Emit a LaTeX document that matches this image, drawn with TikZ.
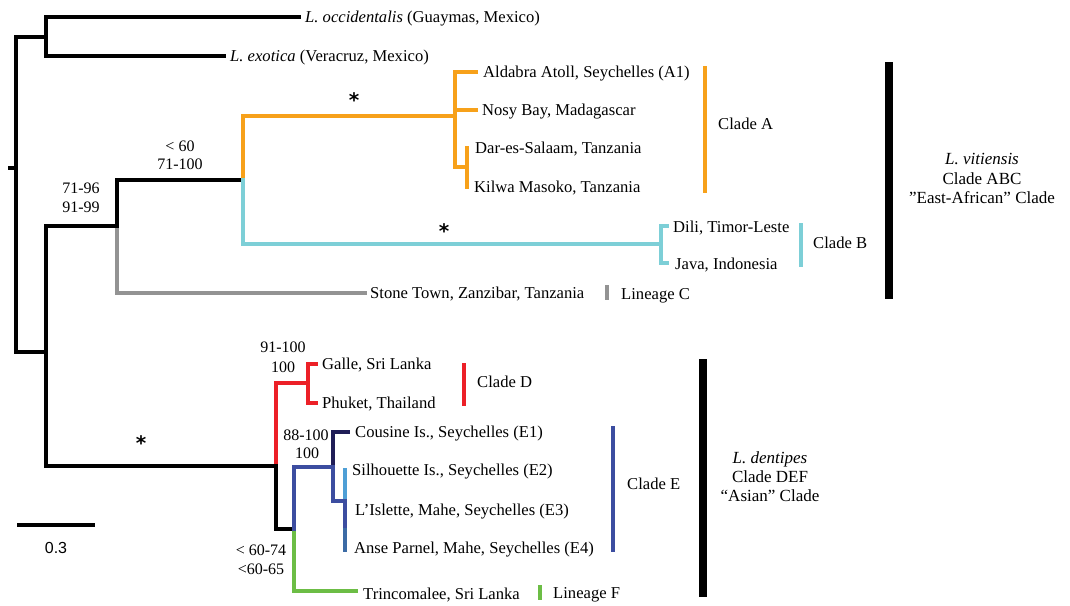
\documentclass[tikz,border=0pt]{standalone}
\usepackage{fontspec}
\setmainfont{Liberation Serif}
\newfontfamily\astfam{DejaVu Sans}
\newfontfamily\sansfam{Liberation Sans}
\definecolor{cA}{HTML}{F7A11A}
\definecolor{cB}{HTML}{7DCFD7}
\definecolor{cC}{HTML}{939393}
\definecolor{cD}{HTML}{EC2027}
\definecolor{cE}{HTML}{3C4DA0}
\definecolor{cEa}{HTML}{1F1D57}
\definecolor{cEb}{HTML}{4E9FD6}
\definecolor{cEd}{HTML}{3C6BA5}
\definecolor{cF}{HTML}{6CBD45}
\begin{document}
\begin{tikzpicture}[x=1pt,y=-1pt,
  br/.style={line width=3.4pt,line cap=rect},
  cbar/.style={line width=3.6pt},
  bigbar/.style={line width=8.5pt},
  tip/.style={anchor=west,inner sep=0pt,font=\fontsize{16.6}{19}\selectfont,text height=11pt,text depth=0pt},
  boot/.style={anchor=center,inner sep=0pt,font=\fontsize{16}{19}\selectfont,text height=10.8pt,text depth=0pt},
  blk/.style={anchor=center,inner sep=0pt,font=\fontsize{17}{19}\selectfont,text height=11.3pt,text depth=0pt},
  ast/.style={anchor=north,inner sep=0pt,font=\astfam\bfseries\fontsize{20}{20}\selectfont}]
\useasboundingbox[fill=white] (0,0) rectangle (1070,605);

% ---------- internal nodes ----------
\coordinate (r) at (16,168);
\coordinate (rstub) at (10,168);
\coordinate (og) at (46,37);
\coordinate (ig) at (46,352);
\coordinate (abc) at (117,226);
\coordinate (ab) at (243,180);
\coordinate (nA) at (455,116);
\coordinate (nDK) at (467,167);
\coordinate (nB) at (661,244);
\coordinate (def) at (276,466);
\coordinate (nD) at (308,383);
\coordinate (nEF) at (294,529);
\coordinate (nE) at (333,467);
\coordinate (nEs) at (345,501);

% ---------- tips ----------
\coordinate (tOcc) at (299,17);
\coordinate (tExo) at (224,56);
\coordinate (tAld) at (476,72);
\coordinate (tNosy) at (476,110);
\coordinate (tDar) at (467,148);
\coordinate (tKil) at (467,187);
\coordinate (tDili) at (667,226);
\coordinate (tJava) at (667,263);
\coordinate (tStone) at (365,293);
\coordinate (tGalle) at (316,364);
\coordinate (tPhuket) at (316,403);
\coordinate (tCous) at (348,432);
\coordinate (tSil) at (345,470);
\coordinate (tIsl) at (345,530);
\coordinate (tAnse) at (345,550);
\coordinate (tTrinc) at (356,591);

% ---------- branches ----------
\draw[br] (r) -- (rstub);
\draw[br] (r) |- (og);
\draw[br] (r) |- (ig);
\draw[br] (og) |- (tOcc);
\draw[br] (og) |- (tExo);
\draw[br] (ig) |- (abc);
\draw[br] (ig) |- (def);
\draw[br,cC] (abc) |- (tStone);
\draw[br] (abc) |- (ab);
\draw[br,cA] (ab) |- (nA);
\draw[br,cB] (ab) |- (nB);
\draw[br,cA] (nA) |- (tAld);
\draw[br,cA] (nA) |- (tNosy);
\draw[br,cA] (nA) |- (nDK);
\draw[br,cA] (nDK) |- (tDar);
\draw[br,cA] (nDK) |- (tKil);
\draw[br,cB] (nB) |- (tDili);
\draw[br,cB] (nB) |- (tJava);
\draw[br,cD] (def) |- (nD);
\draw[br] (def) |- (nEF);
\draw[br,cD] (nD) |- (tGalle);
\draw[br,cD] (nD) |- (tPhuket);
\draw[br,cF] (nEF) |- (tTrinc);
\draw[br,cE] (nEF) |- (nE);
\draw[br,cEa] (nE) |- (tCous);
\draw[br,cE] (nE) |- (nEs);
\draw[br,cEb] (nEs) -- (tSil);
\draw[br,cE] (nEs) -- (tIsl);
\draw[br,cEd] (tIsl) -- (tAnse);

% ---------- tip labels ----------
\node[tip] (lOcc) at (305,17) {\textit{L. occidentalis} (Guaymas, Mexico)};
\node[tip] (lExo) at (230,56) {\textit{L. exotica} (Veracruz, Mexico)};
\node[tip] (lAld) at (483,72) {Aldabra Atoll, Seychelles (A1)};
\node[tip] (lNosy) at (482,110) {Nosy Bay, Madagascar};
\node[tip] (lDar) at (475,148) {Dar-es-Salaam, Tanzania};
\node[tip] (lKil) at (474,187) {Kilwa Masoko, Tanzania};
\node[tip] (lDili) at (673,227) {Dili, Timor-Leste};
\node[tip] (lJava) at (675,264) {Java, Indonesia};
\node[tip] (lStone) at (370,293) {Stone Town, Zanzibar, Tanzania};
\node[tip] (lGalle) at (322,364) {Galle, Sri Lanka};
\node[tip] (lPhuket) at (322,403) {Phuket, Thailand};
\node[tip] (lCous) at (355,432) {Cousine Is., Seychelles (E1)};
\node[tip] (lSil) at (352,470) {Silhouette Is., Seychelles (E2)};
\node[tip] (lIsl) at (355,510) {L’Islette, Mahe, Seychelles (E3)};
\node[tip] (lAnse) at (354,548) {Anse Parnel, Mahe, Seychelles (E4)};
\node[tip] (lTrinc) at (363,594) {Trincomalee, Sri Lanka};

% ---------- support values ----------
\node[boot] (s1a) at (180,146) {< 60};
\node[boot] (s1b) at (180,164) {71-100};
\node[boot] (s2a) at (81,188) {71-96};
\node[boot] (s2b) at (81,207) {91-99};
\node[boot] (s3a) at (283,347) {91-100};
\node[boot] (s3b) at (283,367) {100};
\node[boot] (s4a) at (306,435) {88-100};
\node[boot] (s4b) at (307,453) {100};
\node[boot] (s5a) at (261,550) {< 60-74};
\node[boot] (s5b) at (261,569) {<60-65};
\node[ast] (a1) at (354,92.5) {*};
\node[ast] (a2) at (444,223.5) {*};
\node[ast] (a3) at (141,435.5) {*};

% ---------- clade bars ----------
\draw[cbar,cA] (705,66) -- (705,193);
\node[tip] (cLA) at (718,124) {Clade A};
\draw[cbar,cB] (801,223) -- (801,267);
\node[tip] (cLB) at (813,243) {Clade B};
\draw[cbar,cC] (607,285) -- (607,300);
\node[tip] (cLC) at (621,294) {Lineage C};
\draw[cbar,cD] (464,363) -- (464,406);
\node[tip] (cLD) at (477,382) {Clade D};
\draw[cbar,cE] (613,426) -- (613,552);
\node[tip] (cLE) at (627,484) {Clade E};
\draw[cbar,cF] (540,585) -- (540,600);
\node[tip] (cLF) at (553,593) {Lineage F};

\draw[bigbar] (889,62) -- (889,299);
\node[blk] (v1) at (982,159) {\textit{L. vitiensis}};
\node[blk] (v2) at (982,179) {Clade ABC};
\node[blk] (v3) at (982,198) {”East-African” Clade};
\draw[bigbar] (703,359) -- (703,597);
\node[blk] (d1) at (770,458) {\textit{L. dentipes}};
\node[blk] (d2) at (770,477) {Clade DEF};
\node[blk] (d3) at (770,496) {“Asian” Clade};

% ---------- scale bar ----------
\coordinate (sb1) at (17,525);
\coordinate (sb2) at (95,525);
\draw[line width=3.8pt] (sb1) -- (sb2);
\node[anchor=center,inner sep=0pt,font=\sansfam\fontsize{16}{18}\selectfont,text height=11.5pt,text depth=0pt] (sbl) at (56,548) {0.3};
\end{tikzpicture}
\end{document}
